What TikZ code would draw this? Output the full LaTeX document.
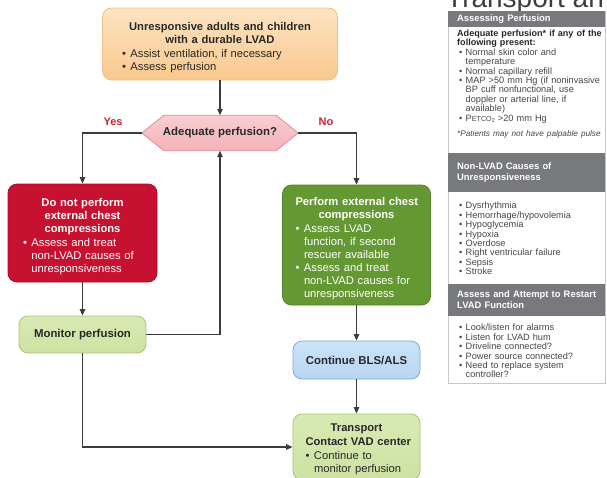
\documentclass[tikz,border=0pt]{standalone}
\usepackage{fontspec}
\setmainfont{Liberation Sans}
\usetikzlibrary{arrows.meta,backgrounds}

\definecolor{orangetop}{RGB}{253,228,194}
\definecolor{orangebot}{RGB}{249,200,142}
\definecolor{orangeline}{RGB}{242,192,135}
\definecolor{hextop}{RGB}{249,206,210}
\definecolor{hexbot}{RGB}{243,178,185}
\definecolor{hexline}{RGB}{228,140,150}
\definecolor{alertred}{RGB}{198,18,48}
\definecolor{actgreen}{RGB}{100,152,50}
\definecolor{palegreen}{RGB}{216,234,180}
\definecolor{palegreenbot}{RGB}{205,226,162}
\definecolor{palegreenline}{RGB}{165,200,115}
\definecolor{palebluetop}{RGB}{204,227,248}
\definecolor{palebluebot}{RGB}{184,214,242}
\definecolor{paleblueline}{RGB}{125,172,215}
\definecolor{labelred}{RGB}{205,35,50}
\definecolor{ink}{RGB}{40,40,40}
\definecolor{connector}{RGB}{60,60,60}
\definecolor{headgray}{RGB}{120,121,125}
\definecolor{panelline}{RGB}{200,200,200}
\definecolor{paneltext}{RGB}{70,70,70}

% centred bold heading inside a box
\newcommand\boxhead[1]{{\centering\bfseries #1\par}}
% bullet item with hanging indent; lines inside are broken with \newline
\newcommand\bitem[2][8.5pt]{\par\hangindent=#1\hangafter=1\noindent\hbox to #1{\textbullet\hss}#2\par}

\hyphenpenalty=10000
\exhyphenpenalty=10000
\hfuzz=100pt
\hbadness=10000

\tikzset{
  x=1pt, y=-1pt,
  flowbox/.style={rectangle, rounded corners=9pt, inner sep=0pt, line width=0.8pt},
  boxtext/.style={inner sep=0pt, font=\fontsize{11.2}{13}\selectfont, yshift=-3.5pt},
  boxtitle/.style={inner sep=0pt, font=\fontsize{11.4}{13}\selectfont\bfseries, text=ink},
  conn/.style={draw=connector, line width=1.3pt,
    -{Triangle[length=6.5pt,width=5.5pt]}},
  branchlabel/.style={font=\fontsize{11}{13}\selectfont\bfseries, text=labelred},
  panelbody/.style={anchor=north west, inner sep=0pt, text width=146pt,
    font=\fontsize{9.2}{9.45}\selectfont, text=paneltext},
  panelheading/.style={anchor=west, inner sep=0pt, text width=146pt,
    font=\fontsize{9.4}{11.2}\selectfont\bfseries, text=white},
}

\begin{document}
\begin{tikzpicture}
\clip (0,0) rectangle (607,477);

% ---------- flowchart boxes ----------
\node[flowbox, draw=orangeline, top color=orangetop, bottom color=orangebot,
      minimum width=235pt, minimum height=72pt] (start) at (220,44) {};
\node[boxtext, text width=196pt, text=ink] (starttext) at (start) {%
  \boxhead{\mbox{Unresponsive adults and children}\\\mbox{with a durable LVAD}}\vspace{1.5pt}
  \bitem{\mbox{Assist ventilation, if necessary}}
  \bitem{\mbox{Assess perfusion}}};

\node[rectangle, inner sep=0pt, minimum width=156pt, minimum height=35pt]
  (hex) at (220,133) {};
\begin{scope}[on background layer]
  \fill[white] (0,0) rectangle (607,477);
  \path[draw=hexline, line width=0.8pt, top color=hextop, bottom color=hexbot]
    ([xshift=22pt]hex.north west) -- ([xshift=-22pt]hex.north east)
    -- (hex.east) -- ([xshift=-22pt]hex.south east)
    -- ([xshift=22pt]hex.south west) -- (hex.west) -- cycle;
\end{scope}
\node[boxtitle] (hextext) at (hex) {Adequate perfusion?};

\node[branchlabel] (yes) at (113,122) {Yes};
\node[branchlabel] (no) at (326,122) {No};

\node[flowbox, fill=alertred, draw=alertred!85!black,
      minimum width=149pt, minimum height=98pt] (nope) at (82.5,233) {};
\node[boxtext, text width=119pt, text=white] (nopetext) at (nope) {%
  \boxhead{\mbox{Do not perform}\\\mbox{external chest}\\\mbox{compressions}}\vspace{1.5pt}
  \bitem{\mbox{Assess and treat}\newline\mbox{non-LVAD causes of}\newline\mbox{unresponsiveness}}};

\node[flowbox, fill=actgreen, draw=actgreen!85!black,
      minimum width=148pt, minimum height=120pt] (comp) at (356.5,245) {};
\node[boxtext, text width=122pt, text=white] (comptext) at (comp) {%
  \boxhead{\mbox{Perform external chest}\\\mbox{compressions}}\vspace{1pt}
  \bitem{\mbox{Assess LVAD}\newline\mbox{function, if second}\newline\mbox{rescuer available}}
  \bitem{\mbox{Assess and treat}\newline\mbox{non-LVAD causes for}\newline\mbox{unresponsiveness}}};

\node[flowbox, draw=palegreenline, top color=palegreen, bottom color=palegreenbot,
      minimum width=127pt, minimum height=37pt] (mon) at (82.5,334.5) {};
\node[boxtitle] (montext) at (mon) {Monitor perfusion};

\node[flowbox, draw=paleblueline, top color=palebluetop, bottom color=palebluebot,
      minimum width=127pt, minimum height=38pt] (bls) at (356.5,360) {};
\node[boxtitle] (blstext) at (bls) {Continue BLS/ALS};

\node[flowbox, draw=palegreenline, top color=palegreen, bottom color=palegreenbot,
      minimum width=127pt, minimum height=66pt] (trans) at (356.5,447) {};
\node[boxtext, text width=102pt, text=ink, yshift=1.5pt] (transtext) at (trans) {%
  \boxhead{\mbox{Transport}\\[1.5pt]\mbox{Contact VAD center}}\vspace{0.5pt}
  \bitem{\mbox{Continue to}\newline\mbox{monitor perfusion}}};

% ---------- connectors ----------
\draw[conn] (start.south) -- (hex.north);
\draw[conn] (hex.west) -| (nope.north);
\draw[conn] (hex.east) -| (comp.north);
\draw[conn] (nope.south) -- (mon.north);
\draw[conn] (mon.east) -| (hex.south);
\draw[conn] (comp.south) -- (bls.north);
\draw[conn] (bls.south) -- (trans.north);
\draw[conn] (mon.south) |- (trans.west);

% ---------- page title (cut by the top edge) ----------
\node[anchor=base west, inner sep=0pt, font=\fontsize{28}{30}\selectfont,
      text=ink!90] (pagetitle) at (446,7) {Transport an};

% ---------- side panel ----------
\path[draw=panelline, fill=white, line width=0.8pt] (448,11) rectangle (605,383);
\fill[headgray] (448,11) rectangle (605,26.5);
\fill[headgray] (448,153) rectangle (605,192);
\fill[headgray] (448,284) rectangle (605,316);

\node[panelheading] (headA) at (457,18.7) {Assessing Perfusion};
\node[panelheading] (headB) at (457,172.5) {Non-LVAD Causes of\\Unresponsiveness};
\node[panelheading] (headC) at (457,300) {Assess and Attempt to Restart\\LVAD Function};

\node[panelbody] (bodyA) at (457,29.5) {%
  {\bfseries\color{ink}\fontsize{9.05}{9.45}\selectfont\mbox{Adequate perfusion* if any of the}\\\mbox{following present:}\par}
  \leftskip=2pt
  \bitem[6.5pt]{\mbox{Normal skin color and}\newline\mbox{temperature}}
  \bitem[6.5pt]{\mbox{Normal capillary refill}}
  \bitem[6.5pt]{\mbox{MAP >50 mm Hg (if noninvasive}\newline\mbox{BP cuff nonfunctional, use}\newline\mbox{doppler or arterial line, if}\newline\mbox{available)}}
  \bitem[6.5pt]{\mbox{P{\fontsize{7.2}{9}\selectfont ETCO}\raisebox{-1.3pt}{\fontsize{5.5}{6}\selectfont 2} >20 mm Hg}}
  \vspace{6pt}\leftskip=0pt
  {\itshape\fontsize{8.2}{9.45}\selectfont \mbox{*Patients may not have palpable pulse}\par}};

\node[panelbody] (bodyB) at (457,199) {%
  \leftskip=2pt
  \bitem[6.5pt]{Dysrhythmia}
  \bitem[6.5pt]{Hemorrhage/hypovolemia}
  \bitem[6.5pt]{Hypoglycemia}
  \bitem[6.5pt]{Hypoxia}
  \bitem[6.5pt]{Overdose}
  \bitem[6.5pt]{Right ventricular failure}
  \bitem[6.5pt]{Sepsis}
  \bitem[6.5pt]{Stroke}};

\node[panelbody] (bodyC) at (457,321) {%
  \leftskip=2pt
  \bitem[6.5pt]{\mbox{Look/listen for alarms}}
  \bitem[6.5pt]{\mbox{Listen for LVAD hum}}
  \bitem[6.5pt]{\mbox{Driveline connected?}}
  \bitem[6.5pt]{\mbox{Power source connected?}}
  \bitem[6.5pt]{\mbox{Need to replace system}\newline\mbox{controller?}}};
\end{tikzpicture}
\end{document}
